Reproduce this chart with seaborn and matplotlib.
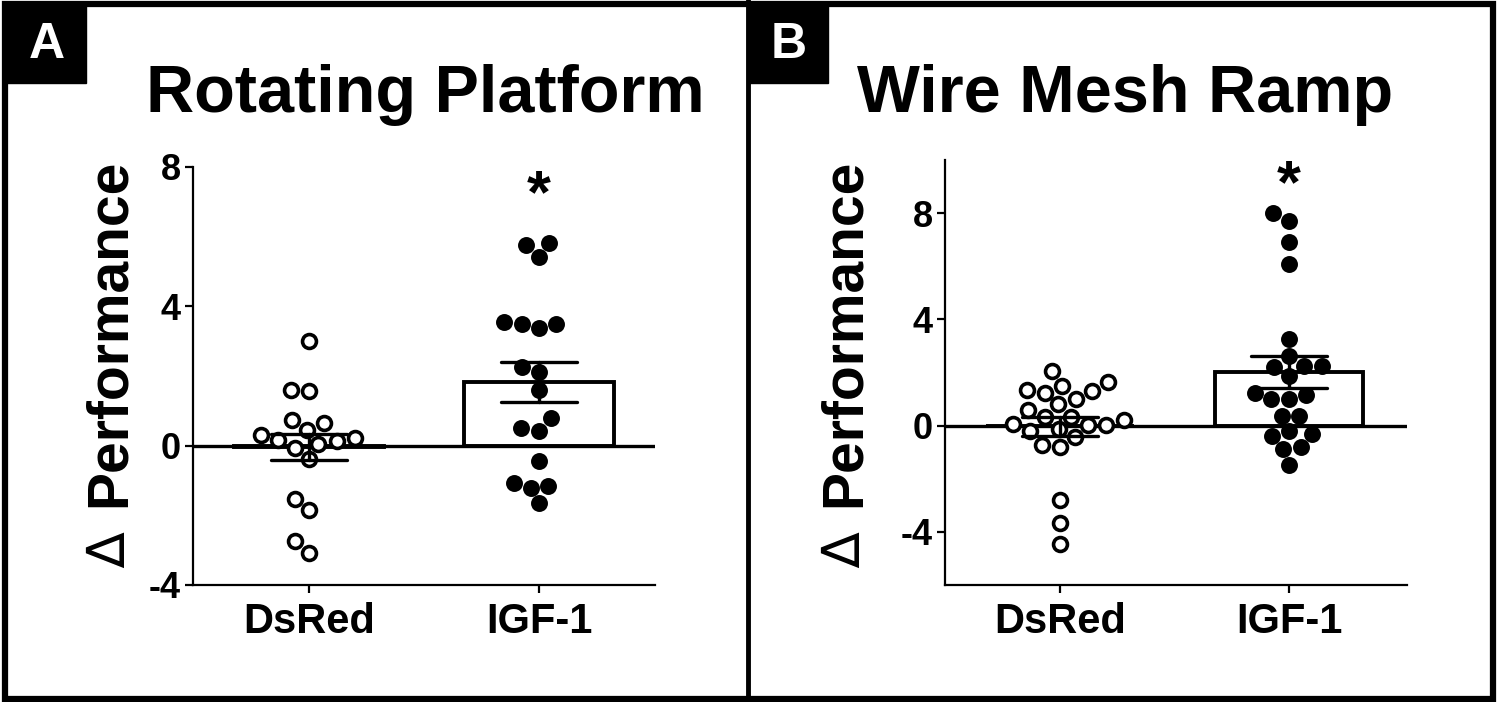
import matplotlib
matplotlib.use("Agg")
import matplotlib.pyplot as plt
import seaborn as sns
import pandas as pd
from matplotlib.patches import Rectangle
from matplotlib.lines import Line2D

sns.set_theme(style="ticks")
plt.rcParams['font.family'] = ['Liberation Sans', 'DejaVu Sans']
plt.rcParams['font.weight'] = 'bold'
plt.rcParams['axes.unicode_minus'] = False

categories = ["DsRed", "IGF-1"]

# Panel A: Rotating Platform
rot_dsred = [3.0, 1.56, 1.61, 0.75, 0.66, 0.12, 0.23, 0.46, 0.32, -0.06, 0.06,
             0.17, -0.37, -1.52, -1.84, -2.75, -3.07]
rot_igf1 = [5.41, 5.75, 5.82, 3.38, 3.48, 3.54, 3.48, 2.26, 2.11, 1.59, 0.80,
            0.43, 0.51, -0.45, -1.17, -1.22, -1.07, -1.65]

# Panel B: Wire Mesh Ramp
wire_dsred = [2.07, 1.24, 1.33, 1.31, 1.50, 1.65, 0.80, 0.99, 0.58, -0.22, 0.20,
              -0.13, -0.72, 0.33, 0.04, -0.43, 0.04, -0.81, 0.08, 0.33,
              -2.79, -3.68, -4.44]
wire_igf1 = [8.0, 7.70, 6.90, 6.10, 3.28, 2.64, 2.26, 2.20, 2.24, 1.88, 1.14,
             1.24, 0.99, 1.02, 0.36, 0.38, -0.30, -0.22, -0.38, -0.79, -0.89, -1.49]

panels = [
    dict(title="Rotating Platform", label="A", ds=rot_dsred, ig=rot_igf1,
         ylim=(-4, 8), yticks=[-4, 0, 4, 8], star=7.15,
         rect=[193/1499, 117/702, 462/1499, 418/702], xlim=(-0.504, 1.504),
         title_x=425/1499, ylab_x=110/1499),
    dict(title="Wire Mesh Ramp", label="B", ds=wire_dsred, ig=wire_igf1,
         ylim=(-6, 10), yticks=[-4, 0, 4, 8], star=9.0,
         rect=[945/1499, 117/702, 462/1499, 425/702], xlim=(-0.502, 1.515),
         title_x=1125/1499, ylab_x=845/1499),
]

fig = plt.figure(figsize=(14.99, 7.02), dpi=100)

for p in panels:
    ax = fig.add_axes(p["rect"])
    df = pd.DataFrame({
        "group": ["DsRed"] * len(p["ds"]) + ["IGF-1"] * len(p["ig"]),
        "value": p["ds"] + p["ig"],
    })
    sns.barplot(data=df, x="group", y="value", order=categories, errorbar="se",
                capsize=0.33, width=0.65, color="white", edgecolor="black",
                linewidth=2.8, saturation=1,
                err_kws={"color": "black", "linewidth": 2.4}, ax=ax)
    for patch in ax.patches:
        patch.set_zorder(1)
    for ln in ax.lines:
        ln.set_zorder(5)
    n_coll = len(ax.collections)
    sns.swarmplot(data=df[df.group == "DsRed"], x="group", y="value",
                  order=categories, size=10, color="white", edgecolor="black",
                  linewidth=2.6, ax=ax)
    sns.swarmplot(data=df[df.group == "IGF-1"], x="group", y="value",
                  order=categories, size=12.2, color="black", linewidth=0, ax=ax)
    for c in ax.collections[n_coll:]:
        c.set_zorder(3)
    ax.axhline(0, color="black", lw=2.4, zorder=2)
    ax.set_xlim(*p["xlim"])
    ax.set_ylim(*p["ylim"])
    ax.set_yticks(p["yticks"])
    ax.set_xlabel("")
    ax.set_ylabel("")
    sns.despine(ax=ax)
    for s in ["left", "bottom"]:
        ax.spines[s].set_linewidth(1.6)
        ax.spines[s].set_color("black")
    ax.tick_params(axis="both", direction="out", length=6, width=1.6, color="black")
    ax.tick_params(axis="x", labelsize=30, pad=6)
    ax.tick_params(axis="y", labelsize=26, pad=3)
    for t in ax.get_xticklabels() + ax.get_yticklabels():
        t.set_fontweight("bold")
        t.set_color("black")
    ax.text(1, p["star"], "*", ha="center", va="center", fontsize=44,
            fontweight="bold", color="black")
    ax.set_facecolor("white")
    fig.text(p["title_x"], 1 - 95/702, p["title"], ha="center", va="center",
             fontsize=48, fontweight="bold", color="black")
    fig.text(p["ylab_x"], 1 - 333/702, "Performance", rotation=90,
             ha="center", va="center", fontsize=41, fontweight="bold", color="black")
    fig.text(p["ylab_x"], 1 - 550/702, "\u2206", rotation=90, family="DejaVu Sans",
             ha="center", va="center", fontsize=38, fontweight="normal", color="black")

# Outer frame and divider
fig.patches.append(Rectangle((5/1499, 3/702), 1488/1499, 695/702, transform=fig.transFigure,
                             fill=False, edgecolor="black", linewidth=4.5, zorder=10))
fig.lines.append(Line2D([748/1499, 748/1499], [0, 1], transform=fig.transFigure,
                        color="black", linewidth=3.5, zorder=10))
# Panel label boxes
for x0, lab in [(6, "A"), (748, "B")]:
    fig.patches.append(Rectangle((x0/1499, 1 - 83/702), 80/1499, 78/702,
                                 transform=fig.transFigure, facecolor="black",
                                 edgecolor="black", zorder=11))
    fig.text((x0 + 41)/1499, 1 - 45/702, lab, ha="center", va="center",
             fontsize=36, fontweight="bold", color="white", zorder=12)

fig.savefig("out.png", dpi=100, facecolor="white")
